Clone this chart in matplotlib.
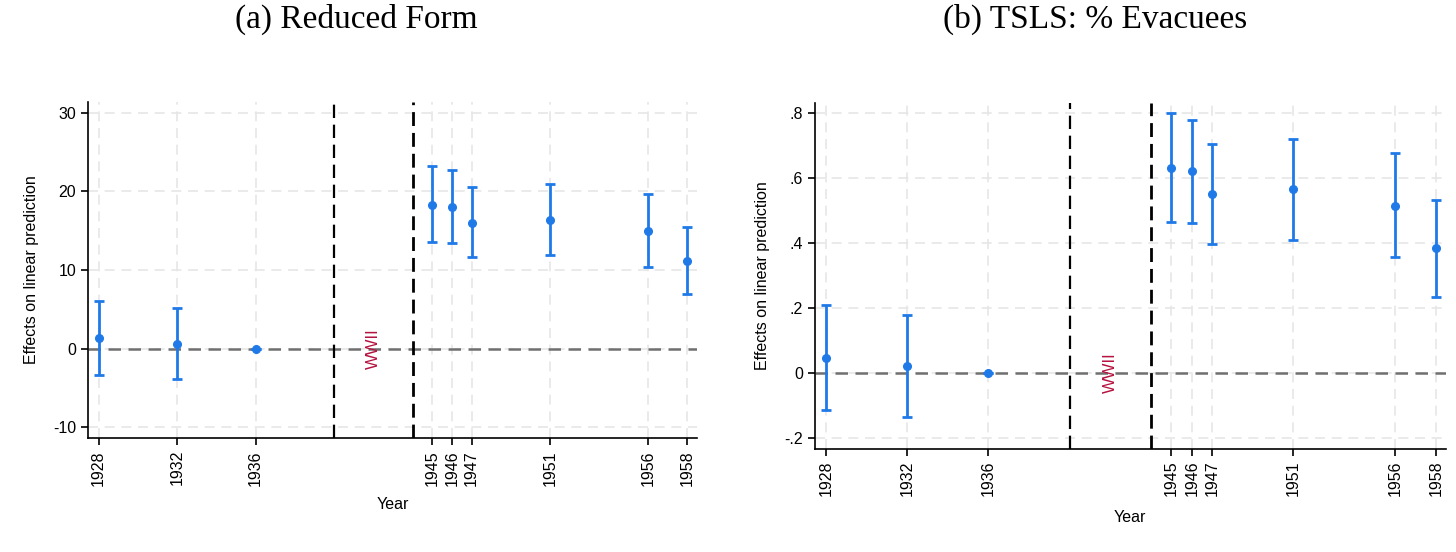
import matplotlib
matplotlib.use("Agg")
from matplotlib import pyplot as plt

plt.rcParams['font.family'] = ['Liberation Sans', 'DejaVu Sans']

years = [1928, 1932, 1936, 1945, 1946, 1947, 1951, 1956, 1958]
year_labels = ['1928', '1932', '1936', '1945', '1946', '1947', '1951', '1956', '1958']

# (a) reduced form
rf_est = [1.36, 0.64, 0.0, 18.3, 18.0, 16.0, 16.4, 15.0, 11.1]
rf_lo = [-3.35, -3.85, 0.0, 13.5, 13.4, 11.6, 11.9, 10.4, 6.9]
rf_hi = [6.1, 5.2, 0.0, 23.2, 22.7, 20.5, 20.9, 19.6, 15.5]
rf_ticks = [-10, 0, 10, 20, 30]
rf_ticklabels = ['-10', '0', '10', '20', '30']

# (b) TSLS % evacuees
iv_est = [0.047, 0.022, 0.0, 0.632, 0.621, 0.550, 0.565, 0.515, 0.384]
iv_lo = [-0.114, -0.134, 0.0, 0.464, 0.462, 0.397, 0.410, 0.357, 0.235]
iv_hi = [0.209, 0.178, 0.0, 0.799, 0.780, 0.705, 0.720, 0.676, 0.533]
iv_ticks = [-0.2, 0, 0.2, 0.4, 0.6, 0.8]
iv_ticklabels = ['-.2', '0', '.2', '.4', '.6', '.8']

war_start = 1940
war_end = 1944
war_label_x = 1942

blue = '#1f7ae8'
grid_col = '#e6e6e6'

fig = plt.figure(figsize=(14.56, 5.52), dpi=100)
ax1 = fig.add_axes([0.0604, 0.206, 0.4185, 0.6098])
ax2 = fig.add_axes([0.5595, 0.1871, 0.4336, 0.6257])


def panel(ax, est, lo, hi, ticks, ticklabels, ylim, xlab_pad):
    yerr = [[e - l for e, l in zip(est, lo)], [h - e for e, h in zip(est, hi)]]
    for y in ticks:
        ax.axhline(y, color=grid_col, lw=1.2, ls=(0, (6, 4)), zorder=0)
    for x in years:
        ax.axvline(x, color=grid_col, lw=1.2, ls=(0, (6, 4)), zorder=0)
    ax.axhline(0, color='#707070', lw=1.8, ls=(0, (5, 3)), zorder=1)
    ax.axvline(war_start, color='black', lw=1.6, ls=(0, (6, 3)), zorder=2)
    ax.axvline(war_end, color='black', lw=2.0, ls=(0, (5, 2.5)), zorder=2)
    ax.errorbar(years, est, yerr=yerr, fmt='o', color=blue, ms=5.5,
                elinewidth=2, capsize=3.5, capthick=2, zorder=3)
    ax.text(war_label_x, 0, 'WWII', rotation=90, color='#b5123f', fontsize=12,
            ha='center', va='center')
    ax.set_xlim(1927.45, 1958.5)
    ax.set_ylim(*ylim)
    ax.set_xticks(years)
    ax.set_xticklabels(year_labels, rotation=90, fontsize=11.5)
    ax.set_yticks(ticks)
    ax.set_yticklabels(ticklabels, fontsize=11.5)
    ax.tick_params(length=5, width=1.2)
    ax.spines['top'].set_visible(False)
    ax.spines['right'].set_visible(False)
    ax.spines['left'].set_linewidth(1.2)
    ax.spines['bottom'].set_linewidth(1.2)
    ax.set_xlabel('Year', fontsize=11.5, labelpad=xlab_pad)
    ax.set_ylabel('Effects on linear prediction', fontsize=11.5, labelpad=10)


panel(ax1, rf_est, rf_lo, rf_hi, rf_ticks, rf_ticklabels, (-11.4, 31.4), 8)
panel(ax2, iv_est, iv_lo, iv_hi, iv_ticks, iv_ticklabels, (-0.233, 0.83), 10)

fig.text(0.245, 0.965, '(a) Reduced Form', family='Liberation Serif', fontsize=24,
         ha='center', va='center')
fig.text(0.752, 0.965, '(b) TSLS: % Evacuees', family='Liberation Serif', fontsize=24,
         ha='center', va='center')

fig.savefig('out.png', dpi=100)
